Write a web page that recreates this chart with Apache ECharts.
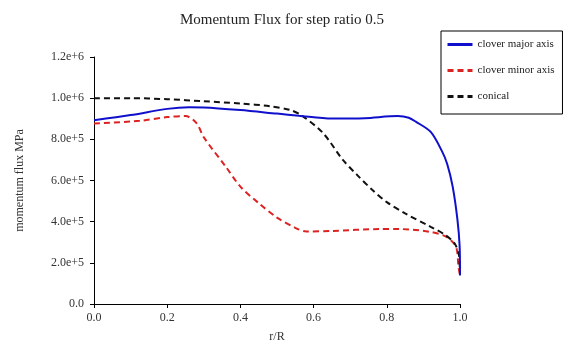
<!DOCTYPE html>
<html>
<head>
<meta charset="utf-8">
<script src="https://cdn.jsdelivr.net/npm/echarts@6/dist/echarts.min.js"></script>
<style>
  html, body { margin: 0; padding: 0; background: #fff; }
  #chart { width: 568px; height: 350px; }
</style>
</head>
<body>
<div id="chart"></div>
<script>
// Radial position r/R and momentum flux (MPa) for each profile
const rMajor = [0, 0.1, 0.2, 0.26, 0.3, 0.4, 0.5, 0.56, 0.65, 0.74, 0.83, 0.86, 0.88, 0.92, 0.95, 0.965, 0.98, 0.993, 0.999, 1.0];
const fluxMajor = [893000, 918000, 948000, 956000, 955000, 942000, 925000, 915000, 901000, 903000, 913000, 905000, 885000, 836000, 745000, 680000, 570000, 410000, 280000, 140000];

const rMinor = [0, 0.125, 0.2, 0.25, 0.28, 0.30, 0.36, 0.40, 0.45, 0.50, 0.55, 0.58, 0.65, 0.78, 0.835, 0.917, 0.962, 0.989, 0.996, 1.0];
const fluxMinor = [877000, 890000, 908000, 913000, 879000, 810000, 667000, 570000, 490000, 420000, 370000, 352000, 355000, 364000, 364000, 351000, 327000, 278000, 180000, 140000];

const rConical = [0, 0.1, 0.2, 0.3, 0.4, 0.48, 0.537, 0.57, 0.626, 0.68, 0.72, 0.76, 0.80, 0.85, 0.92, 0.96, 0.985, 0.997, 1.0];
const fluxConical = [1000000, 1000000, 995000, 985000, 974000, 961000, 942000, 913000, 830000, 700000, 625000, 555000, 495000, 440000, 375000, 335000, 295000, 240000, 140000];

const seriesNames = ['clover major axis', 'clover minor axis', 'conical'];

const pairs = (xs, ys) => xs.map((x, i) => [x, ys[i]]);
const font = 'Liberation Serif, Times New Roman, serif';

const chart = echarts.init(document.getElementById('chart'), null, { renderer: 'canvas' });
chart.setOption({
  backgroundColor: '#ffffff',
  animation: false,
  title: {
    text: 'Momentum Flux for step ratio 0.5',
    left: 277,
    textAlign: 'center',
    top: 8,
    textStyle: { fontFamily: font, fontSize: 15, fontWeight: 'normal', color: '#222' }
  },
  legend: {
    orient: 'vertical',
    left: 441,
    top: 31,
    width: 121,
    padding: [8, 8, 12, 5],
    itemGap: 15,
    itemWidth: 25,
    itemHeight: 12,
    borderColor: '#000',
    borderWidth: 1,
    itemStyle: { opacity: 0 },
    lineStyle: { width: 3 },
    textStyle: { fontFamily: font, fontSize: 11, color: '#222' },
    data: seriesNames
  },
  grid: { left: 94, right: 108, top: 57, bottom: 46 },
  xAxis: {
    type: 'value',
    min: 0,
    max: 1,
    interval: 0.2,
    name: 'r/R',
    nameLocation: 'middle',
    nameGap: 27,
    nameTextStyle: { fontFamily: font, fontSize: 12, color: '#333' },
    axisLine: { lineStyle: { color: '#000', width: 1 } },
    axisTick: { show: true, length: 4, lineStyle: { color: '#000' } },
    axisLabel: {
      fontFamily: font, fontSize: 12, color: '#333', margin: 8,
      formatter: v => v.toFixed(1)
    },
    splitLine: { show: false }
  },
  yAxis: {
    type: 'value',
    min: 0,
    max: 1200000,
    interval: 200000,
    name: 'momentum flux MPa',
    nameLocation: 'middle',
    nameGap: 68,
    nameTextStyle: { fontFamily: font, fontSize: 12, color: '#333' },
    axisLine: { show: true, lineStyle: { color: '#000', width: 1 } },
    axisTick: { show: true, length: 4, lineStyle: { color: '#000' } },
    axisLabel: {
      fontFamily: font, fontSize: 12, color: '#333', margin: 10,
      formatter: v => (v === 0 ? '0.0' : v.toExponential(1))
    },
    splitLine: { show: false }
  },
  series: [
    {
      name: seriesNames[0],
      type: 'line',
      data: pairs(rMajor, fluxMajor),
      symbol: 'none',
      smooth: 0.3,
      lineStyle: { color: '#1010cc', width: 2, type: 'solid' },
      itemStyle: { color: '#1010cc' },
      z: 3
    },
    {
      name: seriesNames[1],
      type: 'line',
      data: pairs(rMinor, fluxMinor),
      symbol: 'none',
      smooth: 0.3,
      lineStyle: { color: '#dd2222', width: 2, type: [6, 4] },
      itemStyle: { color: '#dd2222' },
      z: 2
    },
    {
      name: seriesNames[2],
      type: 'line',
      data: pairs(rConical, fluxConical),
      symbol: 'none',
      smooth: 0.3,
      lineStyle: { color: '#111111', width: 2, type: [6, 4] },
      itemStyle: { color: '#111111' },
      z: 2
    }
  ]
});
</script>
</body>
</html>
